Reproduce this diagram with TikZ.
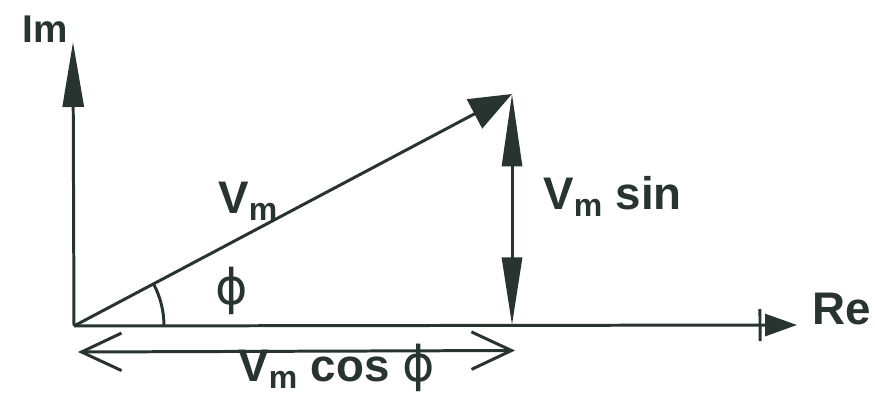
\documentclass[tikz,border=0pt]{standalone}
\usepackage{fontspec}
\setmainfont{Liberation Sans}
\newfontfamily\phifont{DejaVu Sans}
\usetikzlibrary{arrows.meta}
\definecolor{ink}{RGB}{40,52,48}
\newcommand{\phisym}{{\phifont\mdseries\fontsize{28}{30}\selectfont ϕ}}
\begin{document}
\begin{tikzpicture}[every node/.style={font=\fontsize{26}{30}\selectfont\bfseries, text=ink, inner sep=0pt},
  ln/.style={draw=ink, line width=1.7pt},
  lbl/.style={anchor=base west}]
  \useasboundingbox[fill=white] (0,0) rectangle (17.5,8);
  \coordinate (O) at (1.48,1.48);
  \coordinate (imtip) at (1.46,7.16);
  \coordinate (retip) at (15.94,1.5);
  \coordinate (P) at (10.24,6.12);
  \coordinate (F) at (10.24,1.5);
  \coordinate (cl) at (1.56,0.96);
  \coordinate (cr) at (10.3,0.99);
  % axes
  \draw[ln, -{Triangle[length=1.3cm,width=0.42cm]}] (O) -- (imtip);
  \draw[ln, -{Bar[width=0.64cm,sep=2pt]Triangle[length=0.64cm,width=0.44cm]}] (O) -- (retip);
  % phasor and its components
  \draw[ln, -{Triangle[length=0.85cm,width=0.65cm]}] (O) -- (P);
  \draw[ln, {Triangle[length=1.35cm,width=0.4cm]}-{Triangle[length=1.45cm,width=0.4cm]}] (F) -- (P);
  \draw[ln, {Straight Barb[length=0.8cm,width=0.75cm]}-{Straight Barb[length=0.8cm,width=0.75cm]}] (cl) -- (cr);
  \draw[ln] (O) ++(1.8,0) arc[start angle=0, end angle=28, radius=1.8];
  % labels
  \node[lbl, font=\fontsize{22}{26}\selectfont\bfseries] (im) at (0.44,7.14) {Im};
  \node[lbl] (re) at (16.24,1.5) {Re};
  \node[lbl] (vm) at (4.36,3.72) {V\textsubscript{m}};
  \node[lbl] (phi) at (4.3,1.9) {\phisym};
  \node[lbl] (vsin) at (10.86,3.8) {V\textsubscript{m} sin};
  \node[lbl] (vcos) at (4.76,0.36) {V\textsubscript{m} cos \phisym};
\end{tikzpicture}
\end{document}
